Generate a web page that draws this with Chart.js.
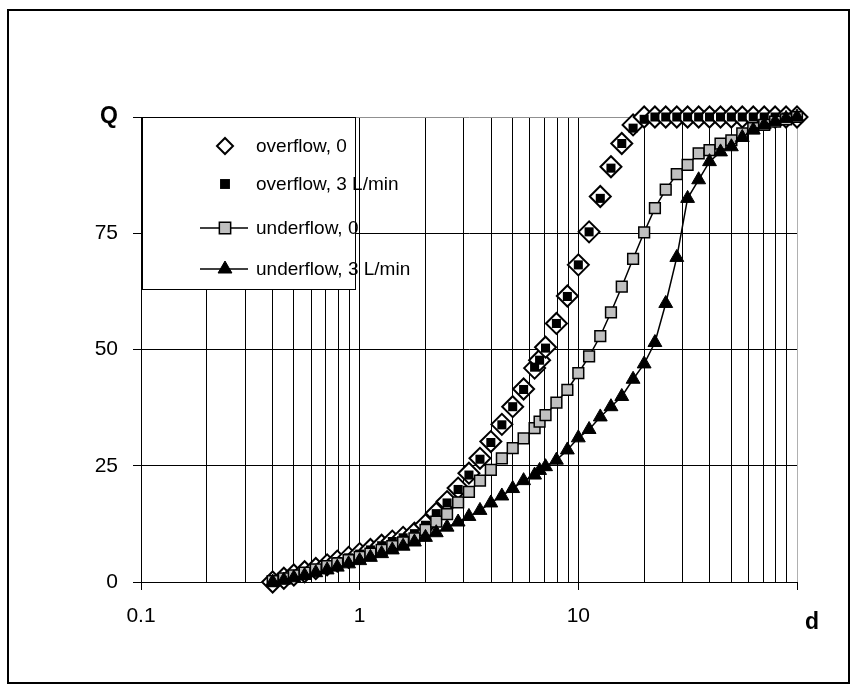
<!DOCTYPE html>
<html>
<head>
<meta charset="utf-8">
<script src="https://cdn.jsdelivr.net/npm/chart.js@4.4.0/dist/chart.umd.min.js"></script>
<style>
    html, body { margin: 0; padding: 0; background: #fff; }
    #wrap { width: 860px; height: 693px; }
</style>
</head>
<body>
<div id="wrap"><canvas id="chart" width="860" height="693"></canvas></div>
<script>
// ===== DATA =====
const sizes = [0.4, 0.45, 0.5, 0.56, 0.63, 0.71, 0.79, 0.89, 1, 1.12, 1.26, 1.41, 1.58, 1.78, 2, 2.24, 2.51, 2.82, 3.16, 3.55,
    3.98, 4.47, 5.01, 5.62, 6.31, 6.65, 7.08, 7.94, 8.91, 10, 11.2, 12.6, 14.1, 15.8, 17.8, 20, 22.4, 25.1, 28.2, 31.6,
    35.5, 39.8, 44.7, 50.1, 56.2, 63.1, 70.8, 79.4, 89.1, 100];

const overflow0 = [0, 0.8, 1.5, 2.2, 2.9, 3.7, 4.5, 5.3, 6.1, 7.0, 7.9, 8.8, 9.6, 10.5, 12.3, 14.8, 17.3, 20.2, 23.4, 26.6,
    30.2, 33.9, 37.7, 41.5, 46.0, 47.7, 50.5, 55.6, 61.5, 68.2, 75.3, 82.9, 89.3, 94.3, 98.3, 100, 100, 100, 100, 100,
    100, 100, 100, 100, 100, 100, 100, 100, 100, 100];

const overflow3 = [0, 0.7, 1.4, 2.1, 2.8, 3.6, 4.4, 5.2, 6.0, 6.9, 7.8, 8.7, 9.5, 10.4, 12.2, 14.7, 17.0, 19.9, 23.0, 26.4,
    30.0, 33.8, 37.7, 41.4, 46.2, 47.7, 50.3, 55.6, 61.4, 68.2, 75.3, 82.5, 89.0, 94.3, 97.6, 99.5, 100, 100, 100, 100,
    100, 100, 100, 100, 100, 100, 100, 100, 100, 100];

const underflow0 = [0.2, 0.8, 1.4, 2.0, 2.7, 3.4, 4.0, 4.7, 5.4, 6.1, 6.9, 7.7, 8.5, 9.4, 11.2, 13.0, 14.6, 17.1, 19.4, 21.8,
    24.1, 26.6, 28.8, 30.9, 33.1, 34.5, 35.9, 38.6, 41.3, 44.9, 48.5, 52.9, 58.0, 63.5, 69.5, 75.2, 80.4, 84.4, 87.7, 89.7,
    92.2, 92.9, 94.3, 95.0, 96.5, 97.6, 98.3, 99.0, 99.5, 100];

const underflow3 = [0, 0.4, 0.9, 1.4, 2.0, 2.6, 3.2, 3.9, 4.6, 5.3, 6.1, 6.9, 7.7, 8.6, 9.6, 10.6, 11.8, 12.9, 14.1, 15.4,
    17.0, 18.5, 20.1, 21.8, 23.0, 24.0, 24.8, 26.2, 28.4, 31.0, 32.8, 35.5, 37.7, 39.9, 43.6, 46.9, 51.5, 59.9, 69.8, 82.5,
    86.5, 90.4, 92.5, 93.6, 95.6, 97.2, 98.3, 99.0, 99.7, 100];

const seriesNames = ['overflow, 0', 'overflow, 3 L/min', 'underflow, 0', 'underflow, 3 L/min'];
const yTickValues = [0, 25, 50, 75, 100];
const xLabelTicks = [0.1, 1, 10];
const xAxisName = 'd';
const yAxisName = 'Q';

const FONT = 'Arial, "Liberation Sans", sans-serif';

function toPoints(values) {
    return sizes.map((d, i) => ({ x: d, y: values[i] }));
}

// ===== LEGEND + FRAME (drawn over the grid, inside the plot) =====
const boxLegendPlugin = {
    id: 'boxLegend',
    afterDraw(chart) {
        const ctx = chart.ctx;
        const area = chart.chartArea;
        ctx.save();

        // outer frame
        ctx.strokeStyle = '#000';
        ctx.lineWidth = 2;
        ctx.strokeRect(8, 10, 841, 673);

        // x axis name
        ctx.fillStyle = '#000';
        ctx.font = 'bold 23px ' + FONT;
        ctx.textAlign = 'center';
        ctx.textBaseline = 'middle';
        ctx.fillText(xAxisName, area.right + 15, area.bottom + 41);

        // legend box
        const left = area.left + 1;
        const top = area.top;
        ctx.fillStyle = '#fff';
        ctx.fillRect(left, top, 213, 172);
        ctx.lineWidth = 1;
        ctx.strokeStyle = '#000';
        ctx.strokeRect(left + 0.5, top + 0.5, 213, 172);

        const rowY = [29, 67, 111, 152];
        chart.data.datasets.forEach((ds, i) => {
            const y = top + rowY[i];
            const mx = left + 83;
            if (ds.showLine) {
                ctx.strokeStyle = '#000';
                ctx.lineWidth = 1.5;
                ctx.beginPath();
                ctx.moveTo(left + 58, y);
                ctx.lineTo(left + 106, y);
                ctx.stroke();
            }
            ctx.fillStyle = ds.pointBackgroundColor;
            ctx.strokeStyle = ds.pointBorderColor;
            ctx.lineWidth = ds.pointBorderWidth;
            Chart.helpers.drawPoint(ctx, {
                pointStyle: ds.pointStyle,
                radius: ds.legendRadius,
                borderWidth: ds.pointBorderWidth,
                rotation: 0
            }, mx, y);
            ctx.fillStyle = '#000';
            ctx.font = '19px ' + FONT;
            ctx.textAlign = 'left';
            ctx.textBaseline = 'middle';
            ctx.fillText(ds.label, left + 114, y + 1);
        });
        ctx.restore();
    }
};

const ctx = document.getElementById('chart');

new Chart(ctx, {
    type: 'scatter',
    data: {
        datasets: [{
            label: seriesNames[0],
            data: toPoints(overflow0),
            showLine: false,
            pointStyle: 'rectRot',
            pointRadius: 10.5,
            legendRadius: 8,
            pointBackgroundColor: '#fff',
            pointBorderColor: '#000',
            pointBorderWidth: 2,
            clip: false,
            order: 4
        }, {
            label: seriesNames[1],
            data: toPoints(overflow3),
            showLine: false,
            pointStyle: 'rect',
            pointRadius: 6.4,
            legendRadius: 7,
            pointBackgroundColor: '#000',
            pointBorderColor: '#000',
            pointBorderWidth: 0,
            clip: false,
            order: 3
        }, {
            label: seriesNames[2],
            data: toPoints(underflow0),
            showLine: true,
            borderColor: '#000',
            borderWidth: 1.5,
            pointStyle: 'rect',
            pointRadius: 7.6,
            legendRadius: 8,
            pointBackgroundColor: '#c0c0c0',
            pointBorderColor: '#000',
            pointBorderWidth: 1.5,
            clip: false,
            order: 2
        }, {
            label: seriesNames[3],
            data: toPoints(underflow3),
            showLine: true,
            borderColor: '#000',
            borderWidth: 1.5,
            pointStyle: 'triangle',
            pointRadius: 8,
            legendRadius: 8,
            pointBackgroundColor: '#000',
            pointBorderColor: '#000',
            pointBorderWidth: 1,
            clip: false,
            order: 1
        }]
    },
    options: {
        responsive: false,
        animation: false,
        events: [],
        layout: {
            padding: { left: 0, right: 63, top: 117, bottom: 0 }
        },
        plugins: {
            legend: { display: false },
            tooltip: { enabled: false }
        },
        scales: {
            x: {
                type: 'logarithmic',
                min: 0.1,
                max: 100,
                afterFit: function(scale) { scale.height = 111; },
                afterBuildTicks: function(scale) {
                    const ticks = [];
                    [0.1, 1, 10].forEach(p => {
                        for (let k = 1; k < 10; k++) ticks.push({ value: k * p, major: k === 1 });
                    });
                    ticks.push({ value: 100, major: true });
                    scale.ticks = ticks;
                },
                border: { display: true, color: '#000', width: 1 },
                grid: {
                    color: function(c) {
                        if (c.tick && c.tick.value === 100) return '#b0b0b0';
                        return '#000';
                    },
                    lineWidth: 1,
                    tickLength: 8,
                    tickColor: function(c) {
                        return c.tick && c.tick.major ? '#000' : 'rgba(0,0,0,0)';
                    }
                },
                ticks: {
                    autoSkip: false,
                    maxRotation: 0,
                    padding: 14,
                    color: '#000',
                    font: { family: FONT, size: 21 },
                    callback: function(value) {
                        return xLabelTicks.includes(value) ? String(value) : '';
                    }
                }
            },
            y: {
                min: 0,
                max: 100,
                afterFit: function(scale) { scale.width = 141; },
                afterBuildTicks: function(scale) {
                    scale.ticks = yTickValues.map(v => ({ value: v }));
                },
                border: { display: true, color: '#000', width: 1 },
                grid: {
                    color: function(c) {
                        if (c.tick && c.tick.value === 100) return '#909090';
                        return '#000';
                    },
                    lineWidth: 1,
                    tickLength: 8,
                    tickColor: '#000'
                },
                ticks: {
                    padding: 15,
                    color: '#000',
                    font: function(c) {
                        if (c.tick && c.tick.value === 100) return { family: FONT, size: 23, weight: 'bold' };
                        return { family: FONT, size: 21 };
                    },
                    callback: function(value) {
                        return value === 100 ? yAxisName : value;
                    }
                }
            }
        }
    },
    plugins: [boxLegendPlugin]
});
</script>
</body>
</html>
